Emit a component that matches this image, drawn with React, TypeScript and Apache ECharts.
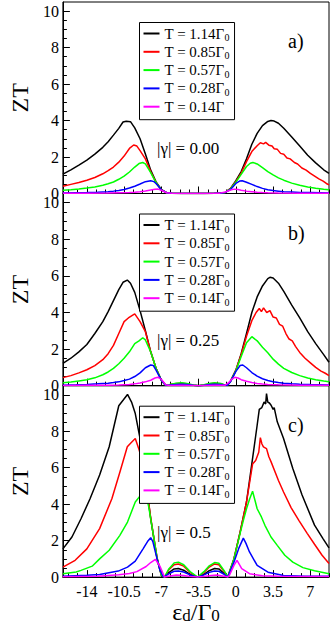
import React, { useEffect, useRef } from "react";
import * as echarts from "echarts";

// ---------- data ----------
const X_TICKS = [-14, -10.5, -7, -3.5, 0, 3.5, 7];
const Y_TICKS = [0, 2, 4, 6, 8, 10];
const X_MIN = -16.25;
const X_MAX = 8.75;
const Y_MIN = 0;
const Y_MAX = 10.5;
const PANEL_TAGS = ["a)", "b)", "c)"];
const GAMMA_LABELS = ["|γ| = 0.00", "|γ| = 0.25", "|γ| = 0.5"];
const NAMES_A = ["T = 1.14Γ0", "T = 0.85Γ0", "T = 0.57Γ0", "T = 0.28Γ0", "T = 0.14Γ"];
const NAMES_BC = ["T = 1.14Γ0", "T = 0.85Γ0", "T = 0.57Γ0", "T = 0.28Γ0", "T = 0.14Γ0"];
const COLORS = ["#000000", "#ff0000", "#00ff00", "#0000ff", "#ff00ff"];

// panel a) |γ| = 0.00
const A_T114 = [[-16.25,1.06],[-15.5,1.3],[-14.75,1.56],[-14,1.83],[-13.25,2.16],[-12.5,2.53],[-12,2.84],[-11.5,3.2],[-11,3.57],[-10.6,3.92],[-10.3,3.96],[-9.9,3.94],[-9.5,3.6],[-9,3.0],[-8.5,2.16],[-8,1.28],[-7.5,0.64],[-7,0.22],[-6.5,0.04],[-6,0.01],[-5,0],[-4,0],[-3,0],[-2,0.01],[-1.5,0.02],[-1,0.06],[-0.5,0.28],[0,0.7],[0.5,1.2],[1,1.9],[1.5,2.7],[2,3.3],[2.5,3.72],[3,3.95],[3.3,4.0],[3.6,3.97],[4,3.85],[4.5,3.58],[5.25,3.1],[6,2.6],[6.75,2.1],[7.5,1.68],[8.25,1.3],[8.75,1.1]];
const A_T085 = [[-16.25,0.4],[-15.5,0.5],[-14.75,0.6],[-14,0.73],[-13.25,0.88],[-12.5,1.08],[-12,1.25],[-11.5,1.45],[-11,1.72],[-10.5,2.05],[-10,2.47],[-9.6,2.66],[-9.3,2.6],[-9,2.35],[-8.5,1.9],[-8,1.2],[-7.5,0.6],[-7,0.2],[-6.5,0.04],[-6,0.01],[-5,0],[-4,0],[-3,0],[-2,0.01],[-1.5,0.02],[-1,0.06],[-0.5,0.27],[0,0.65],[0.5,1.12],[1,1.75],[1.5,2.3],[2,2.62],[2.3,2.78],[2.6,2.72],[2.8,2.8],[3.1,2.65],[3.4,2.6],[3.6,2.45],[3.9,2.42],[4.2,2.2],[4.5,2.15],[4.8,1.95],[5.1,1.9],[5.5,1.7],[5.8,1.62],[6.2,1.4],[6.6,1.28],[7,1.1],[7.4,0.95],[7.8,0.8],[8.2,0.68],[8.5,0.55],[8.75,0.47]];
const A_T057 = [[-16.25,0.18],[-15.5,0.21],[-14.75,0.25],[-14,0.3],[-13.25,0.36],[-12.5,0.45],[-12,0.53],[-11.5,0.63],[-11,0.78],[-10.5,0.95],[-10,1.18],[-9.5,1.45],[-9.1,1.64],[-8.75,1.7],[-8.5,1.62],[-8,1.15],[-7.5,0.6],[-7,0.2],[-6.5,0.04],[-6,0.01],[-5,0],[-4,0],[-3,0],[-2,0.01],[-1.5,0.02],[-1,0.06],[-0.5,0.26],[0,0.62],[0.5,1.05],[1,1.48],[1.35,1.66],[1.6,1.7],[2,1.62],[2.5,1.42],[3,1.2],[3.5,1.02],[4,0.86],[4.5,0.73],[5.25,0.57],[6,0.45],[6.75,0.36],[7.5,0.29],[8.25,0.23],[8.75,0.2]];
const A_T028 = [[-16.25,0.03],[-15,0.04],[-14,0.05],[-13,0.07],[-12,0.1],[-11.5,0.13],[-11,0.17],[-10.5,0.22],[-10,0.3],[-9.5,0.4],[-9,0.52],[-8.5,0.65],[-8,0.7],[-7.7,0.65],[-7.5,0.55],[-7,0.2],[-6.5,0.04],[-6,0.01],[-5,0],[-4,0],[-3,0],[-2,0.01],[-1.5,0.02],[-1,0.06],[-0.5,0.22],[0,0.55],[0.35,0.68],[0.6,0.7],[1,0.62],[1.5,0.5],[2,0.38],[2.5,0.28],[3,0.21],[3.5,0.16],[4,0.13],[4.5,0.1],[5.25,0.08],[6,0.06],[7,0.05],[8,0.04],[8.75,0.03]];
const A_T014 = [[-16.25,0.01],[-14,0.02],[-12,0.03],[-11,0.04],[-10,0.05],[-9.5,0.07],[-9,0.1],[-8.5,0.14],[-8,0.19],[-7.6,0.23],[-7.3,0.24],[-7,0.18],[-6.5,0.04],[-6,0.01],[-5,0],[-4,0],[-3,0],[-2,0.01],[-1.5,0.02],[-1,0.08],[-0.5,0.19],[-0.15,0.24],[0.2,0.22],[0.5,0.18],[1,0.13],[1.5,0.1],[2,0.07],[2.5,0.05],[3,0.04],[4,0.03],[6,0.02],[8.75,0.01]];

// panel b) |γ| = 0.25
const B_T114 = [[-16.25,1.22],[-15.5,1.5],[-14.75,1.85],[-14,2.25],[-13.25,2.85],[-12.5,3.5],[-12,4.05],[-11.5,4.65],[-11,5.25],[-10.6,5.65],[-10.2,5.77],[-9.9,5.6],[-9.5,5.1],[-9,4.1],[-8.5,3.0],[-8,1.85],[-7.5,0.95],[-7,0.3],[-6.6,0.03],[-6.2,0.05],[-5.6,0.1],[-5.1,0.11],[-4.6,0.08],[-4,0.03],[-3.5,0],[-3,0.03],[-2.5,0.08],[-2,0.11],[-1.4,0.09],[-1,0.03],[-0.8,0.02],[-0.5,0.25],[0,0.85],[0.5,1.75],[1,2.85],[1.5,4.0],[2,4.85],[2.5,5.45],[3,5.85],[3.2,5.92],[3.5,5.88],[4,5.6],[4.5,5.15],[5.25,4.4],[6,3.7],[6.75,2.95],[7.5,2.3],[8.25,1.7],[8.75,1.28]];
const B_T085 = [[-16.25,0.44],[-15.5,0.55],[-14.75,0.7],[-14,0.87],[-13.25,1.1],[-12.5,1.42],[-12,1.75],[-11.5,2.2],[-11,2.85],[-10.5,3.5],[-10.1,3.7],[-9.5,3.92],[-9,3.5],[-8.5,2.95],[-8,1.85],[-7.5,0.95],[-7,0.3],[-6.6,0.03],[-6.2,0.06],[-5.6,0.12],[-5.1,0.13],[-4.6,0.1],[-4,0.03],[-3.5,0],[-3,0.04],[-2.5,0.1],[-2,0.13],[-1.4,0.1],[-1,0.03],[-0.8,0.02],[-0.5,0.25],[0,0.85],[0.5,1.7],[1,2.7],[1.5,3.55],[1.9,4.0],[2.2,4.22],[2.4,4.05],[2.6,4.25],[2.9,4.0],[3.2,4.1],[3.5,3.75],[3.8,3.7],[4.1,3.35],[4.4,3.25],[4.7,2.85],[5,2.55],[5.3,2.45],[5.6,2.15],[6,1.82],[6.5,1.5],[7,1.25],[7.5,1.0],[8,0.8],[8.4,0.68],[8.75,0.55]];
const B_T057 = [[-16.25,0.16],[-15.5,0.2],[-14.75,0.26],[-14,0.32],[-13.25,0.43],[-12.5,0.6],[-12,0.75],[-11.5,0.95],[-11,1.2],[-10.5,1.5],[-10,1.85],[-9.5,2.3],[-9.1,2.45],[-8.75,2.62],[-8.5,2.5],[-8,1.85],[-7.5,0.95],[-7,0.3],[-6.6,0.03],[-6.2,0.07],[-5.6,0.14],[-5.1,0.16],[-4.6,0.12],[-4,0.04],[-3.5,0],[-3,0.05],[-2.5,0.12],[-2,0.16],[-1.4,0.12],[-1,0.03],[-0.8,0.02],[-0.5,0.25],[0,0.82],[0.5,1.6],[1,2.35],[1.5,2.68],[2,2.45],[2.5,2.1],[3,1.8],[3.5,1.45],[4,1.18],[4.5,0.95],[5.25,0.72],[6,0.55],[6.75,0.42],[7.5,0.33],[8.25,0.26],[8.75,0.22]];
const B_T028 = [[-16.25,0.03],[-15,0.05],[-14,0.07],[-13,0.1],[-12,0.14],[-11.5,0.17],[-11,0.21],[-10.5,0.28],[-10,0.36],[-9.5,0.5],[-9,0.7],[-8.5,0.98],[-8,1.13],[-7.75,1.1],[-7.5,0.85],[-7,0.3],[-6.6,0.03],[-6.2,0.04],[-5.6,0.07],[-5.1,0.08],[-4.6,0.06],[-4,0.02],[-3.5,0],[-3,0.02],[-2.5,0.06],[-2,0.08],[-1.4,0.06],[-1,0.02],[-0.8,0.02],[-0.5,0.22],[0,0.78],[0.4,1.1],[0.65,1.13],[1,0.98],[1.5,0.72],[2,0.52],[2.5,0.38],[3,0.28],[3.5,0.22],[4,0.17],[4.5,0.14],[5.25,0.1],[6,0.08],[7,0.06],[8,0.05],[8.75,0.04]];
const B_T014 = [[-16.25,0.01],[-14,0.02],[-12,0.03],[-11,0.04],[-10,0.07],[-9.5,0.1],[-9,0.15],[-8.5,0.21],[-8,0.3],[-7.6,0.42],[-7.3,0.46],[-7,0.35],[-6.6,0.05],[-6.2,0.01],[-5.1,0.03],[-4,0.01],[-3.5,0],[-3,0.01],[-2,0.03],[-1,0.03],[-0.7,0.15],[-0.4,0.35],[-0.1,0.46],[0.2,0.42],[0.5,0.33],[1,0.24],[1.5,0.17],[2,0.12],[2.5,0.09],[3,0.07],[4,0.05],[6,0.03],[8.75,0.02]];

// panel c) |γ| = 0.5
const C_T114 = [[-16.25,1.55],[-15.4,2.2],[-14.55,3.2],[-13.7,4.3],[-12.8,5.6],[-11.9,7.15],[-11.5,8.15],[-11,9.4],[-10.6,9.7],[-10.18,10.02],[-9.8,9.6],[-9.45,8.97],[-9,7.6],[-8.7,6.3],[-8.4,5.0],[-8,3.2],[-7.4,1.0],[-7,0.1],[-6.7,0],[-6.3,0.25],[-5.8,0.45],[-5.4,0.47],[-4.9,0.38],[-4.3,0.15],[-3.6,0],[-3,0.15],[-2.5,0.35],[-2,0.47],[-1.6,0.45],[-1.1,0.2],[-0.76,0],[-0.18,1.0],[0.4,2.47],[1,4.12],[1.57,6.51],[2,8.33],[2.2,9.2],[2.44,9.3],[2.65,9.6],[2.8,9.5],[2.88,10.07],[3.0,9.6],[3.15,9.55],[3.31,9.43],[3.5,9.2],[3.6,9.3],[3.89,8.52],[4.48,7.6],[5.35,5.96],[6.22,4.5],[7.39,2.85],[8.2,2.1],[8.75,1.6]];
const C_T085 = [[-16.25,0.55],[-15.1,0.92],[-14,1.55],[-12.8,2.66],[-11.65,4.3],[-10.9,5.75],[-10.2,7.15],[-9.8,7.4],[-9.45,7.6],[-9.1,7.0],[-8.7,6.2],[-8.4,5.0],[-8,3.25],[-7.4,1.05],[-7,0.1],[-6.7,0],[-6.3,0.4],[-5.8,0.68],[-5.4,0.72],[-4.9,0.6],[-4.3,0.25],[-3.6,0],[-3,0.25],[-2.5,0.55],[-2,0.72],[-1.6,0.68],[-1.1,0.3],[-0.76,0],[-0.18,1.0],[0.4,2.47],[1,4.12],[1.57,6.2],[1.86,6.4],[2.15,6.85],[2.3,7.65],[2.45,7.3],[2.59,7.14],[2.88,7.05],[3.1,6.6],[3.31,6.32],[4,5.3],[4.48,4.67],[5.2,3.8],[5.93,3.1],[6.7,2.4],[7.39,1.8],[8.1,1.2],[8.75,0.75]];
const C_T057 = [[-16.25,0.18],[-15,0.28],[-14.55,0.37],[-13.5,0.6],[-12.8,1.0],[-11.9,1.47],[-10.9,2.29],[-10.18,3.02],[-9.45,4.12],[-9,4.45],[-8.72,4.71],[-8.45,4.49],[-8.2,3.9],[-8,3.2],[-7.4,1.05],[-7,0.1],[-6.7,0],[-6.3,0.45],[-5.8,0.78],[-5.4,0.82],[-4.9,0.68],[-4.3,0.3],[-3.6,0],[-3,0.3],[-2.5,0.62],[-2,0.8],[-1.6,0.76],[-1.1,0.35],[-0.76,0],[-0.18,1.0],[0.4,2.4],[0.7,3.1],[1.0,3.75],[1.3,4.3],[1.57,4.71],[1.8,4.2],[2.0,3.75],[2.4,3.3],[2.73,2.84],[3.3,2.2],[3.89,1.74],[4.6,1.2],[5.35,0.82],[6.3,0.52],[7.39,0.35],[8.75,0.18]];
const C_T028 = [[-16.25,0.05],[-14,0.1],[-12.8,0.14],[-11.05,0.33],[-10.18,0.55],[-9.45,0.88],[-8.72,1.55],[-8.3,1.95],[-8,2.16],[-7.8,1.95],[-7.56,1.37],[-7.12,0.35],[-6.8,0],[-6.3,0.18],[-5.8,0.32],[-5.4,0.34],[-4.9,0.28],[-4.3,0.12],[-3.6,0],[-3,0.12],[-2.5,0.26],[-2,0.34],[-1.6,0.32],[-1.1,0.15],[-0.76,0],[-0.18,0.82],[0.26,1.56],[0.7,2.14],[0.95,1.85],[1.28,1.38],[2.0,0.64],[3.02,0.27],[4.48,0.09],[6.5,0.05],[8.75,0.04]];
const C_T014 = [[-16.25,0.02],[-13,0.05],[-11,0.13],[-10,0.2],[-9.3,0.3],[-8.43,0.58],[-8,0.8],[-7.56,0.97],[-7.12,0.58],[-6.7,0],[-6.3,0.05],[-5.6,0.12],[-4.9,0.09],[-4.3,0.03],[-3.6,0],[-3,0.03],[-2.3,0.09],[-1.8,0.12],[-1.1,0.05],[-0.76,0],[-0.6,0.1],[-0.18,0.64],[0.11,0.92],[0.55,0.46],[1.28,0.19],[2.5,0.07],[4,0.05],[8.75,0.03]];

const PANEL_DATA = [
  [A_T114, A_T085, A_T057, A_T028, A_T014],
  [B_T114, B_T085, B_T057, B_T028, B_T014],
  [C_T114, C_T085, C_T057, C_T028, C_T014],
];
const PANEL_NAMES = [NAMES_A, NAMES_BC, NAMES_BC];

// ---------- layout ----------
const FONT = "'Liberation Serif', 'Times New Roman', 'DejaVu Serif', serif";
const GRID_LEFT = 42.5;
const GRID_WIDTH = 286.5;
const PANELS = [
  { top: 2, height: 191.5 },
  { top: 193.5, height: 192.2 },
  { top: 385.7, height: 192 },
];

function minorValues(majors: number[], lo: number, hi: number, parts: number) {
  const step = (majors[1] - majors[0]) / parts;
  const out: number[] = [];
  const k0 = Math.ceil((lo - majors[0]) / step);
  const k1 = Math.floor((hi - majors[0]) / step);
  for (let k = k0; k <= k1; k++) {
    if (((k % parts) + parts) % parts === 0) continue;
    out.push(+(majors[0] + k * step).toFixed(4));
  }
  return out;
}

function buildOption() {
  const xMinor = minorValues(X_TICKS, X_MIN, X_MAX, 4);
  const yMinor = minorValues(Y_TICKS, Y_MIN, Y_MAX - 0.01, 4);
  const grid: any[] = [];
  const xAxis: any[] = [];
  const yAxis: any[] = [];
  const series: any[] = [];
  const legend: any[] = [];
  const graphic: any[] = [];

  PANELS.forEach((p, i) => {
    grid.push({
      left: GRID_LEFT, top: p.top, width: GRID_WIDTH, height: p.height,
      show: true, borderColor: "#000", borderWidth: 1, backgroundColor: "transparent",
    });
    const isLast = i === PANELS.length - 1;
    xAxis.push({
      type: "value", gridIndex: i, min: X_MIN, max: X_MAX, position: "bottom",
      axisLine: { show: true, onZero: false, lineStyle: { color: "#000", width: 1 } },
      axisTick: { show: true, inside: true, length: 7, customValues: X_TICKS, lineStyle: { color: "#000" } },
      axisLabel: { show: isLast, customValues: X_TICKS, margin: 6, fontFamily: FONT, fontSize: 16, color: "#000" },
      splitLine: { show: false },
      name: isLast ? "{m|ε}{s|d}{m|/Γ}{s|0}" : "",
      nameLocation: "middle",
      nameGap: 14,
      nameTextStyle: {
        fontFamily: FONT, color: "#000",
        rich: {
          m: { fontFamily: FONT, fontSize: 24, color: "#000", lineHeight: 30, verticalAlign: "bottom" },
          s: { fontFamily: FONT, fontSize: 17, color: "#000", lineHeight: 22, verticalAlign: "bottom" },
        },
      },
    });
    xAxis.push({
      type: "value", gridIndex: i, min: X_MIN, max: X_MAX, position: "bottom",
      axisLine: { show: false, onZero: false },
      axisTick: { show: true, inside: true, length: 4, customValues: xMinor, lineStyle: { color: "#000" } },
      axisLabel: { show: false },
      splitLine: { show: false },
    });
    yAxis.push({
      type: "value", gridIndex: i, min: Y_MIN, max: Y_MAX, position: "left",
      axisLine: { show: true, onZero: false, lineStyle: { color: "#000", width: 1 } },
      axisTick: { show: true, inside: true, length: 7, customValues: Y_TICKS, lineStyle: { color: "#000" } },
      axisLabel: { show: true, customValues: Y_TICKS, margin: 4, fontFamily: FONT, fontSize: 16, color: "#000" },
      splitLine: { show: false },
      name: "ZT",
      nameLocation: "middle",
      nameGap: 18,
      nameTextStyle: { fontFamily: FONT, fontSize: 24, color: "#000" },
    });
    yAxis.push({
      type: "value", gridIndex: i, min: Y_MIN, max: Y_MAX, position: "left",
      axisLine: { show: false, onZero: false },
      axisTick: { show: true, inside: true, length: 4, customValues: yMinor, lineStyle: { color: "#000" } },
      axisLabel: { show: false },
      splitLine: { show: false },
    });

    PANEL_DATA[i].forEach((d, k) => {
      series.push({
        type: "line",
        name: PANEL_NAMES[i][k],
        xAxisIndex: 2 * i,
        yAxisIndex: 2 * i,
        data: d,
        showSymbol: false,
        symbol: "none",
        smooth: false,
        lineStyle: { color: COLORS[k], width: 1.5 },
        itemStyle: { color: COLORS[k] },
        clip: true,
      });
    });

    legend.push({
      orient: "vertical",
      left: 139.5,
      top: p.top + 20.5,
      data: PANEL_NAMES[i],
      icon: "rect",
      itemWidth: 16,
      itemHeight: 2,
      itemGap: 0.3,
      padding: [2, 5, 4, 4],
      borderColor: "#000",
      borderWidth: 1,
      backgroundColor: "#fff",
      selectedMode: false,
      formatter: (n: string) => n.replace(/Γ0$/, "Γ{s|0}"),
      textStyle: {
        fontFamily: FONT, fontSize: 15, color: "#000", lineHeight: 18,
        rich: {
          s: { fontFamily: FONT, fontSize: 10, color: "#000", lineHeight: 10, padding: [8, 0, 0, 0], verticalAlign: "bottom" },
        },
      },
    });

    graphic.push({
      type: "text", left: 288, top: p.top + 29,
      style: { text: PANEL_TAGS[i], fontFamily: FONT, fontSize: 20, fill: "#000" },
    });
    graphic.push({
      type: "text", left: 157, top: p.top + 138,
      style: { text: GAMMA_LABELS[i], fontFamily: FONT, fontSize: 17, fill: "#000" },
    });
  });

  return {
    animation: false,
    backgroundColor: "#fff",
    textStyle: { fontFamily: FONT },
    grid, xAxis, yAxis, series, legend, graphic,
  };
}

export default function App() {
  const ref = useRef<HTMLDivElement>(null);
  useEffect(() => {
    document.body.style.margin = "0";
    const chart = echarts.init(ref.current!, null, { renderer: "svg" });
    chart.setOption(buildOption() as any);
    return () => chart.dispose();
  }, []);
  return <div ref={ref} style={{ width: 332, height: 625, position: "absolute", left: 0, top: 0 }} />;
}
